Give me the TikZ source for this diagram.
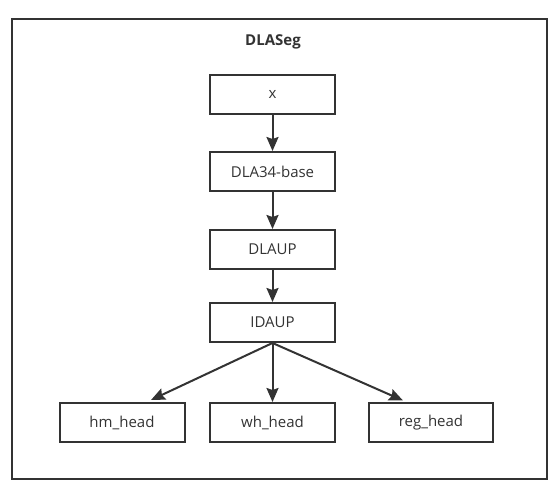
\documentclass[tikz,border=0pt]{standalone}
\usepackage{fontspec}
\setmainfont{Open Sans}
\usetikzlibrary{arrows.meta}
\definecolor{ink}{HTML}{333333}
\begin{document}
\begin{tikzpicture}[x=1pt,y=-1pt,
  box/.style={draw=ink,line width=2pt,minimum width=125pt,minimum height=39pt,
    inner sep=0pt,text=ink,font=\fontsize{15}{18}\selectfont},
  arr/.style={draw=ink,line width=2pt,-{Stealth[length=14pt,width=12pt,inset=2pt]}}]
\useasboundingbox (0,0) rectangle (559,490);
\draw[ink,line width=2pt] (12,19) rectangle (547,479);
\node[text=ink,font=\fontsize{15}{18}\selectfont\bfseries] (title) at (273,42) {DLASeg};
\node[box] (x) at (272.5,94) {x};
\node[box] (dla) at (272.5,171.5) {DLA34-base};
\node[box] (dlaup) at (272.5,249.5) {DLAUP};
\node[box] (idaup) at (272.5,322.5) {IDAUP};
\node[box] (hm) at (122,422.5) {hm\_head};
\node[box] (wh) at (272.5,422.5) {wh\_head};
\node[box,minimum width=124pt] (reg) at (431,422.5) {reg\_head};
\coordinate (hmT) at (151,400);
\coordinate (regT) at (403,400.5);
\draw[arr] (x) -- (dla);
\draw[arr] (dla) -- (dlaup);
\draw[arr] (dlaup) -- (idaup);
\draw[arr] (idaup.south) -- (wh);
\draw[arr] (idaup.south) -- (hmT);
\draw[arr] (idaup.south) -- (regT);
\end{tikzpicture}
\end{document}
